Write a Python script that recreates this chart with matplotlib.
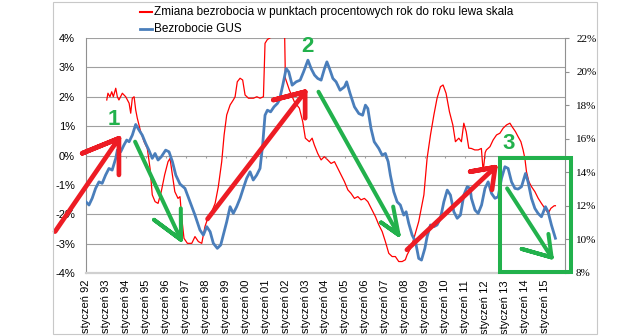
import matplotlib
matplotlib.use("Agg")
import matplotlib.pyplot as plt
from matplotlib.lines import Line2D
from matplotlib.patches import Rectangle

plt.rcParams["font.family"] = ["Liberation Sans", "DejaVu Sans"]

# ── data (decimal year, value) ──────────────────────────────────────────
red_t = [1993.04, 1993.10, 1993.20, 1993.29, 1993.37, 1993.49, 1993.57, 1993.65,
         1993.82, 1993.99, 1994.16, 1994.24, 1994.32, 1994.41, 1994.49, 1994.57,
         1994.74, 1994.91, 1995.07, 1995.21, 1995.32, 1995.46, 1995.61, 1995.77,
         1995.94, 1996.11, 1996.21, 1996.33, 1996.45, 1996.61, 1996.71, 1996.80,
         1996.91, 1997.08, 1997.30, 1997.46, 1997.63, 1997.80, 1997.96, 1998.13,
         1998.30, 1998.47, 1998.63, 1998.80, 1998.92, 1999.05, 1999.22, 1999.38,
         1999.47, 1999.58, 1999.72, 1999.85, 1999.97, 2000.14, 2000.39, 2000.56,
         2000.72, 2000.89, 2000.97, 2001.09, 2001.31, 2001.56, 2001.72, 2001.95,
         2001.99, 2002.19, 2002.44, 2002.69, 2002.86, 2002.99, 2003.19, 2003.33,
         2003.44, 2003.61, 2003.78, 2003.94, 2004.11, 2004.28, 2004.45, 2004.62,
         2004.78, 2004.95, 2005.12, 2005.28, 2005.45, 2005.62, 2005.78, 2005.95,
         2006.12, 2006.29, 2006.50, 2006.67, 2006.84, 2007.00, 2007.17, 2007.34,
         2007.50, 2007.67, 2007.84, 2008.00, 2008.09, 2008.26, 2008.43, 2008.67,
         2008.93, 2009.09, 2009.26, 2009.43, 2009.59, 2009.76, 2009.89, 2010.04,
         2010.21, 2010.38, 2010.51, 2010.68, 2010.81, 2010.93, 2011.05, 2011.18,
         2011.31, 2011.48, 2011.65, 2011.81, 2011.90, 2012.00, 2012.06, 2012.24,
         2012.40, 2012.57, 2012.74, 2012.90, 2013.07, 2013.24, 2013.35, 2013.52,
         2013.65, 2013.79, 2013.90, 2013.99, 2014.07, 2014.19, 2014.32, 2014.49,
         2014.66, 2014.82, 2014.99, 2015.16, 2015.29, 2015.46, 2015.52]
red_v = [1.89, 2.12, 2.00, 2.17, 2.00, 2.29, 2.00, 1.89,
         2.12, 2.00, 1.78, 1.44, 1.95, 2.00, 1.55, 1.27,
         0.81, 0.47, 0.24, -0.44, -1.34, -1.57, -1.63, -1.23,
         -0.66, -0.21, -0.10, -0.66, -1.23, -1.46, -1.40, -2.14,
         -2.82, -2.99, -2.99, -2.76, -2.93, -2.99, -2.42, -2.08,
         -1.91, -1.63, -1.06, -0.21, 0.70, 1.38, 1.72, 1.89,
         2.00, 2.51, 2.63, 2.57, 2.06, 1.95, 1.95, 2.00,
         1.95, 2.00, 3.82, 3.95, 4.04, 4.05, 4.20, 4.20,
         2.63, 2.23, 1.83, 1.61, 1.15, 0.59, 0.47, 0.59,
         0.36, 0.07, -0.15, -0.04, -0.15, -0.27, -0.21, -0.44,
         -0.66, -0.89, -1.17, -1.29, -1.46, -1.40, -1.51, -1.46,
         -1.57, -1.80, -2.08, -2.36, -2.59, -2.93, -3.33, -3.44,
         -3.44, -3.61, -3.61, -3.55, -3.38, -3.16, -2.82, -2.25,
         -1.34, -0.10, 0.70, 1.38, 1.95, 2.34, 2.40, 2.12,
         1.49, 1.04, 0.47, 0.59, 0.47, 1.10, 0.81, 0.25,
         0.24, 0.19, 0.19, 0.24, -0.55, 0.10, 0.19, 0.30,
         0.53, 0.70, 0.76, 0.93, 1.04, 1.10, 0.98, 0.81,
         0.64, 0.47, 0.19, -0.10, -0.55, -0.89, -1.06, -1.23,
         -1.46, -1.63, -1.80, -1.97, -1.80, -1.71, -1.71]

blue_t = [1992.00, 1992.15, 1992.31, 1992.48, 1992.65, 1992.81, 1992.98, 1993.15,
          1993.31, 1993.49, 1993.57, 1993.74, 1993.90, 1994.04, 1994.16, 1994.32,
          1994.49, 1994.66, 1994.82, 1994.99, 1995.15, 1995.32, 1995.46, 1995.61,
          1995.77, 1995.99, 1996.16, 1996.33, 1996.50, 1996.71, 1996.96, 1997.21,
          1997.46, 1997.71, 1997.88, 1998.05, 1998.22, 1998.38, 1998.58, 1998.75,
          1998.88, 1999.05, 1999.22, 1999.38, 1999.55, 1999.72, 1999.88, 2000.05,
          2000.22, 2000.38, 2000.55, 2000.72, 2000.85, 2000.97, 2001.09, 2001.25,
          2001.42, 2001.59, 2001.69, 2001.86, 2002.03, 2002.16, 2002.33, 2002.53,
          2002.73, 2002.90, 2003.12, 2003.28, 2003.45, 2003.61, 2003.78, 2003.95,
          2004.07, 2004.20, 2004.37, 2004.53, 2004.73, 2004.95, 2005.06, 2005.23,
          2005.45, 2005.67, 2005.86, 2006.00, 2006.12, 2006.28, 2006.44, 2006.67,
          2006.84, 2007.00, 2007.14, 2007.25, 2007.42, 2007.59, 2007.75, 2007.92,
          2008.04, 2008.17, 2008.34, 2008.51, 2008.67, 2008.81, 2008.98, 2009.09,
          2009.26, 2009.43, 2009.59, 2009.76, 2009.93, 2010.10, 2010.26, 2010.43,
          2010.60, 2010.76, 2010.93, 2011.10, 2011.25, 2011.31, 2011.49, 2011.65,
          2011.82, 2011.99, 2012.15, 2012.32, 2012.49, 2012.65, 2012.82, 2012.99,
          2013.15, 2013.32, 2013.49, 2013.65, 2013.82, 2014.02, 2014.15, 2014.32,
          2014.49, 2014.65, 2014.82, 2015.02, 2015.15, 2015.32, 2015.52]
blue_v = [12.24, 12.05, 12.45, 13.04, 13.43, 13.34, 13.83, 14.23,
          14.13, 14.83, 15.32, 15.22, 15.62, 15.92, 15.82, 16.21,
          16.85, 16.51, 16.21, 15.72, 15.32, 14.83, 15.12, 14.73,
          14.92, 15.32, 15.22, 14.63, 13.83, 13.30, 13.04, 12.24,
          11.45, 10.56, 10.26, 10.76, 10.46, 9.77, 9.47, 9.67,
          10.26, 11.05, 11.95, 11.55, 11.95, 12.45, 13.04, 13.64,
          14.03, 13.54, 13.83, 14.23, 15.62, 17.40, 17.70, 17.60,
          17.90, 18.10, 18.30, 19.19, 20.18, 19.98, 19.19, 19.39,
          19.49, 19.98, 20.68, 20.18, 19.79, 19.59, 19.49, 20.18,
          20.58, 20.18, 19.59, 19.39, 18.89, 19.09, 19.39, 18.70,
          17.90, 17.50, 17.40, 18.00, 17.80, 16.61, 15.82, 15.42,
          15.02, 15.12, 14.63, 13.83, 12.84, 12.24, 12.05, 11.45,
          11.65, 10.96, 10.26, 9.86, 8.87, 8.77, 9.47, 10.16,
          10.86, 10.76, 10.86, 11.26, 12.24, 12.94, 12.64, 11.65,
          11.26, 11.45, 12.64, 13.14, 13.04, 12.45, 11.75, 11.55,
          12.05, 13.04, 13.43, 12.74, 12.45, 12.54, 13.64, 14.33,
          14.23, 13.43, 13.04, 13.00, 13.14, 13.93, 13.43, 12.45,
          11.85, 11.55, 11.35, 11.95, 11.65, 10.86, 10.07]

years = list(range(1992, 2016))
year_labels = [f"styczeń {y % 100:02d}" for y in years]
left_ticks = [-4, -3, -2, -1, 0, 1, 2, 3, 4]
right_ticks = [8, 10, 12, 14, 16, 18, 20, 22]

# hand-drawn annotations (year, left-axis %)
red_arrows = [
    [(1990.45, -2.59), (1993.65, 0.585), (1991.81, 0.075), (1993.65, 0.585), (1993.65, -0.66)],
    [(1998.09, -2.16), (2002.98, 2.17), (2001.39, 1.89), (2002.98, 2.17), (2002.98, 1.27)],
    [(2008.08, -3.21), (2012.50, -0.40), (2011.25, -0.55), (2012.50, -0.40), (2012.34, -1.17)],
]
green_arrows = [
    [(1994.46, 0.47), (1996.76, -2.87), (1995.41, -2.19), (1996.76, -2.87), (1996.75, -1.80)],
    [(2003.65, 2.17), (2007.66, -2.70), (2006.79, -2.28), (2007.66, -2.70), (2007.39, -1.74)],
    [(2013.10, -1.12), (2015.33, -3.47), (2013.83, -3.18), (2015.33, -3.47), (2015.17, -2.67)],
]
numbers = [("1", 1993.37, 1.21), ("2", 2003.08, 3.70), ("3", 2013.17, 0.41)]
box = (2012.72, -3.96, 2016.29, -0.095)

RED = "#ff0000"
BLUE = "#4a7ebb"
ARROW_RED = "#ed1c24"
GREEN = "#22b14c"
GRID = "#a0a0a0"

W, H = 642, 336
fig = plt.figure(figsize=(W / 100, H / 100), dpi=100)
rect = [86 / W, (H - 273) / H, (565 - 86) / W, (273 - 38) / H]

ax = fig.add_axes(rect)
ax.set_xlim(1992, 2016)
ax.set_ylim(-4, 4)
ax.plot(red_t, red_v, color=RED, lw=0.9)
ax.set_yticks(left_ticks)
ax.set_yticklabels([f"{v}%" for v in left_ticks], fontsize=8)
ax.yaxis.grid(True, color=GRID, lw=0.8)
ax.set_axisbelow(True)
ax.set_xticks(years)
ax.set_xticklabels(year_labels, rotation=90, fontsize=8)
ax.tick_params(axis="x", length=0, pad=5)
ax.tick_params(axis="y", length=0, pad=8)
ax.vlines(years, -0.1, 0, colors=GRID, lw=0.8)
for s in ["top", "right"]:
    ax.spines[s].set_visible(False)
ax.spines["left"].set_color("#909090")
ax.spines["bottom"].set_color("#d0d0d0")
ax.spines["bottom"].set_linewidth(1.6)

ax2 = ax.twinx()
ax2.set_ylim(8, 22)
ax2.plot(blue_t, blue_v, color=BLUE, lw=2)
ax2.set_yticks(right_ticks)
ax2.set_yticklabels([f"{v}%" for v in right_ticks], fontsize=8,
                    family="Liberation Serif")
ax2.tick_params(axis="y", length=3, color="#909090", pad=5)
for s in ["top", "left", "bottom"]:
    ax2.spines[s].set_visible(False)
ax2.spines["right"].set_color("#909090")

# overlay for the hand-drawn marks
ov = fig.add_axes(rect, frameon=False)
ov.set_xlim(1992, 2016)
ov.set_ylim(-4, 4)
ov.axis("off")
for arr in red_arrows:
    xs, ys = zip(*arr)
    ov.plot(xs, ys, color=ARROW_RED, lw=3.4, solid_capstyle="round",
            solid_joinstyle="round", clip_on=False)
for arr in green_arrows:
    xs, ys = zip(*arr)
    ov.plot(xs, ys, color=GREEN, lw=2.9, solid_capstyle="round",
            solid_joinstyle="round", clip_on=False)
for txt, x, y in numbers:
    ov.text(x, y, txt, color=GREEN, fontsize=16, fontweight="bold",
            ha="center", va="center")
ov.add_patch(Rectangle((box[0], box[1]), box[2] - box[0], box[3] - box[1],
                       fill=False, ec=GREEN, lw=2.9, clip_on=False))

# legend at the top
fig.add_artist(Line2D([140 / W, 152 / W], [1 - 12 / H] * 2, color=RED, lw=1.5))
fig.text(154 / W, 1 - 12 / H, "Zmiana bezrobocia w punktach procentowych rok do roku lewa skala",
         fontsize=8.5, va="center")
fig.add_artist(Line2D([140 / W, 152 / W], [1 - 29 / H] * 2, color=BLUE, lw=2))
fig.text(154 / W, 1 - 29 / H, "Bezrobocie GUS", fontsize=8.5, va="center")

# outer frame
fig.add_artist(Rectangle((53 / W, 2 / H), (597 - 53) / W, 332 / H,
                         transform=fig.transFigure, fill=False,
                         ec="#c8c8c8", lw=0.8))

fig.savefig("out.png", dpi=100)
